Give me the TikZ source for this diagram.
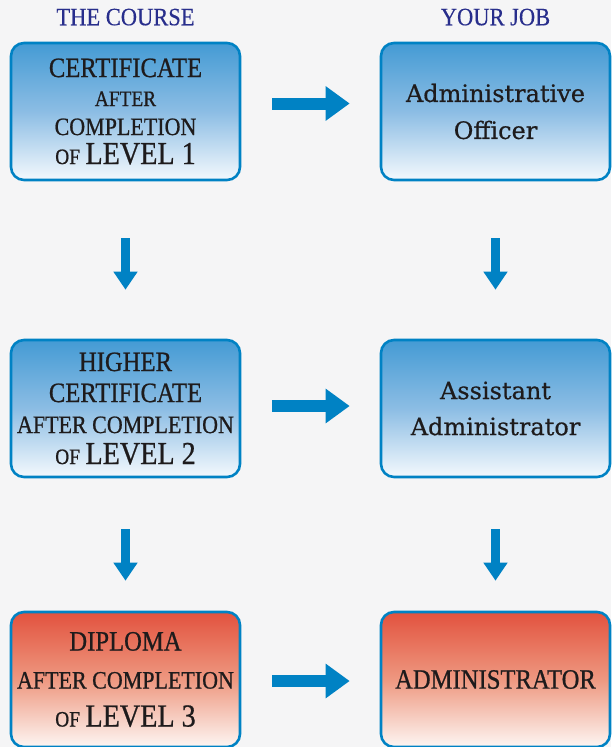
\documentclass[tikz,border=0pt]{standalone}
\usepackage{fontspec}
\usepackage{tikz}
\usepackage{xcolor}
\usetikzlibrary{positioning,arrows.meta}
\newfontfamily\capsfont[FakeStretch=0.88, FakeBold=0.7]{Liberation Serif}
\newfontfamily\headfont[FakeStretch=0.9, FakeBold=0.3]{Liberation Serif}
\newfontfamily\jobfont[FakeBold=0.5]{DejaVu Serif}
\newcommand\fs[2]{{\fontsize{#1}{#1}\selectfont #2}}
\definecolor{bgcol}{RGB}{245,245,246}
\definecolor{edgeblue}{RGB}{0,130,196}
\definecolor{headblue}{RGB}{40,46,140}
\definecolor{inkcol}{RGB}{30,27,28}
\definecolor{topblue}{RGB}{68,155,212}
\definecolor{midblue}{RGB}{140,189,228}
\definecolor{lowblue}{RGB}{244,249,253}
\definecolor{topred}{RGB}{226,82,62}
\definecolor{midred}{RGB}{238,152,128}
\definecolor{lowred}{RGB}{253,246,243}

\begin{document}
\begin{tikzpicture}[x=1pt, y=-1pt,
    box/.style={draw=edgeblue, line width=2.6pt, rounded corners=13pt, minimum width=229pt, minimum height=137pt, inner sep=0pt, align=center, text=inkcol},
    bluebox/.style={box, top color=topblue, bottom color=lowblue, middle color=midblue},
    redbox/.style={box, top color=topred, bottom color=lowred, middle color=midred, minimum height=135pt},
    head/.style={text=headblue, inner sep=0pt, font=\headfont\fontsize{25}{25}\selectfont},
    harrow/.style={draw=edgeblue, line width=12pt, -{Triangle[width=33pt, length=24pt]}},
    varrow/.style={draw=edgeblue, line width=9pt, -{Triangle[width=23pt, length=18pt]}}]
                \useasboundingbox[fill=bgcol] (0,0) rectangle (611,747);

                \node[bluebox, font=\capsfont\fontsize{25}{29}\selectfont] (C1) at (125.5,111.5)
                    {\fs{28}{CERTIFICATE}\\ \fs{22}{AFTER}\\ COMPLETION\\ \fs{22}{OF} \fs{32}{LEVEL 1}};
                \node[bluebox, font=\capsfont\fontsize{25}{31}\selectfont] (C2) at (125.5,408.5)
                    {\fs{28}{HIGHER}\\ \fs{28}{CERTIFICATE}\\ AFTER COMPLETION\\ \fs{22}{OF} \fs{32}{LEVEL 2}};
                \node[redbox, font=\capsfont\fontsize{25}{38}\selectfont] (C3) at (125.5,679.5)
                    {\fs{28}{DIPLOMA}\\ AFTER COMPLETION\\ \fs{22}{OF} \fs{32}{LEVEL 3}};
                \node[bluebox, font=\jobfont\fontsize{24}{37}\selectfont] (J1) at (495.5,111.5) {Administrative\\ Officer};
                \node[bluebox, font=\jobfont\fontsize{24}{36}\selectfont] (J2) at (495.5,408.5) {Assistant\\ Administrator};
                \node[redbox, font=\capsfont\fontsize{28}{28}\selectfont] (J3) at (495.5,679.5) {ADMINISTRATOR};

                \node[head, above=16pt of C1] (T1) {THE COURSE};
                \node[head, above=16pt of J1] (T2) {YOUR JOB};

                \foreach \i/\s in {1/8, 2/2.5, 3/-1.5}
                    \draw[harrow, shorten <=31pt, shorten >=30pt] ([yshift=\s pt]C\i.east) -- ([yshift=\s pt]J\i.west);

                \foreach \c in {C, J} {
                    \draw[varrow, shorten <=57pt, shorten >=49pt] (\c1.south) -- (\c2.north);
                    \draw[varrow, shorten <=51pt, shorten >=30pt] (\c2.south) -- (\c3.north);
                }
            \end{tikzpicture}
\end{document}
